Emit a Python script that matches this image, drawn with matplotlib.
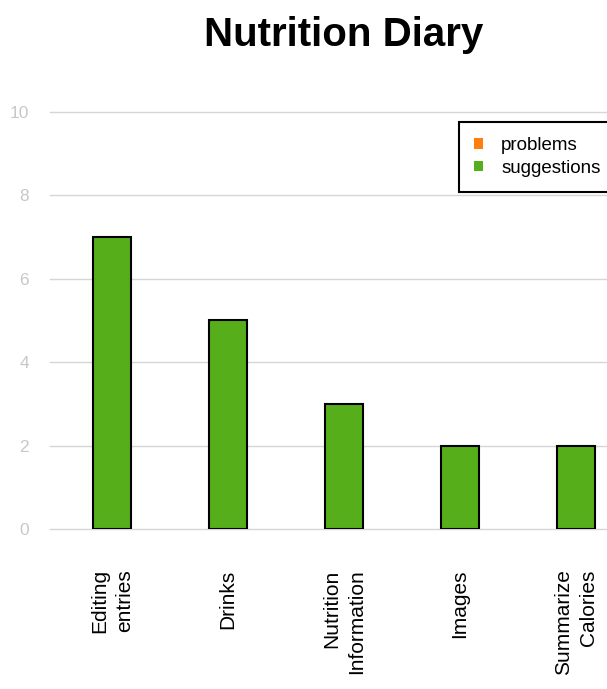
import matplotlib
matplotlib.use("Agg")
import matplotlib.pyplot as plt
from matplotlib.patches import Patch

plt.rcParams['font.family'] = ['Liberation Sans', 'DejaVu Sans']

# donnees du graphique
categories = ["Editing\nentries", "Drinks", "Nutrition\nInformation", "Images", "Summarize\nCalories"]
problems = [0, 0, 0, 0, 0]
suggestions = [7, 5, 3, 2, 2]

couleur_problems = "#ff7f0e"
couleur_suggestions = "#56ae1b"

fig = plt.figure(figsize=(6.07, 6.89), dpi=100)
ax = fig.add_axes([50/607, 160/689, 557/607, 417/689])

x = list(range(len(categories)))
ax.bar(x, problems, width=0.33, color=couleur_problems, zorder=3)
ax.bar(x, suggestions, width=0.33, bottom=problems, color=couleur_suggestions,
       edgecolor="black", linewidth=1.5, zorder=3)

ax.set_xlim(-0.534, 4.267)
ax.set_ylim(0, 10)
ax.set_yticks([0, 2, 4, 6, 8, 10])
ax.grid(axis="y", color="#d6d6d6", linewidth=1, zorder=0)
for ligne in ax.get_ygridlines():
    ligne.set_clip_on(False)
for s in ax.spines.values():
    s.set_visible(False)

ax.set_xticks(x)
ax.set_xticklabels(categories, rotation=90, fontsize=15, multialignment="right",
                   va="top", ha="center", linespacing=1.4)
ax.tick_params(axis="x", length=0, pad=29)
ax.tick_params(axis="y", length=0, pad=15, labelsize=12.5, labelcolor="#c8c8c8")

fig.text(344/607, 1 - 35/689, "Nutrition Diary", fontsize=29, fontweight="bold",
         ha="center", va="center")

# petits carres de couleur dans la legende
handles = [Patch(facecolor=couleur_problems, edgecolor="none", label="problems"),
           Patch(facecolor=couleur_suggestions, edgecolor="none", label="suggestions")]
leg = fig.legend(handles=handles, loc="upper left", bbox_to_anchor=(459/607, 1 - 122/689),
                 fontsize=13.5, handlelength=0.5, handleheight=0.5, handletextpad=0.95,
                 fancybox=False, framealpha=1, borderpad=0.8, labelspacing=0.3,
                 borderaxespad=0)
leg.get_frame().set_edgecolor("black")
leg.get_frame().set_linewidth(1.5)

plt.savefig("out.png", dpi=100)
